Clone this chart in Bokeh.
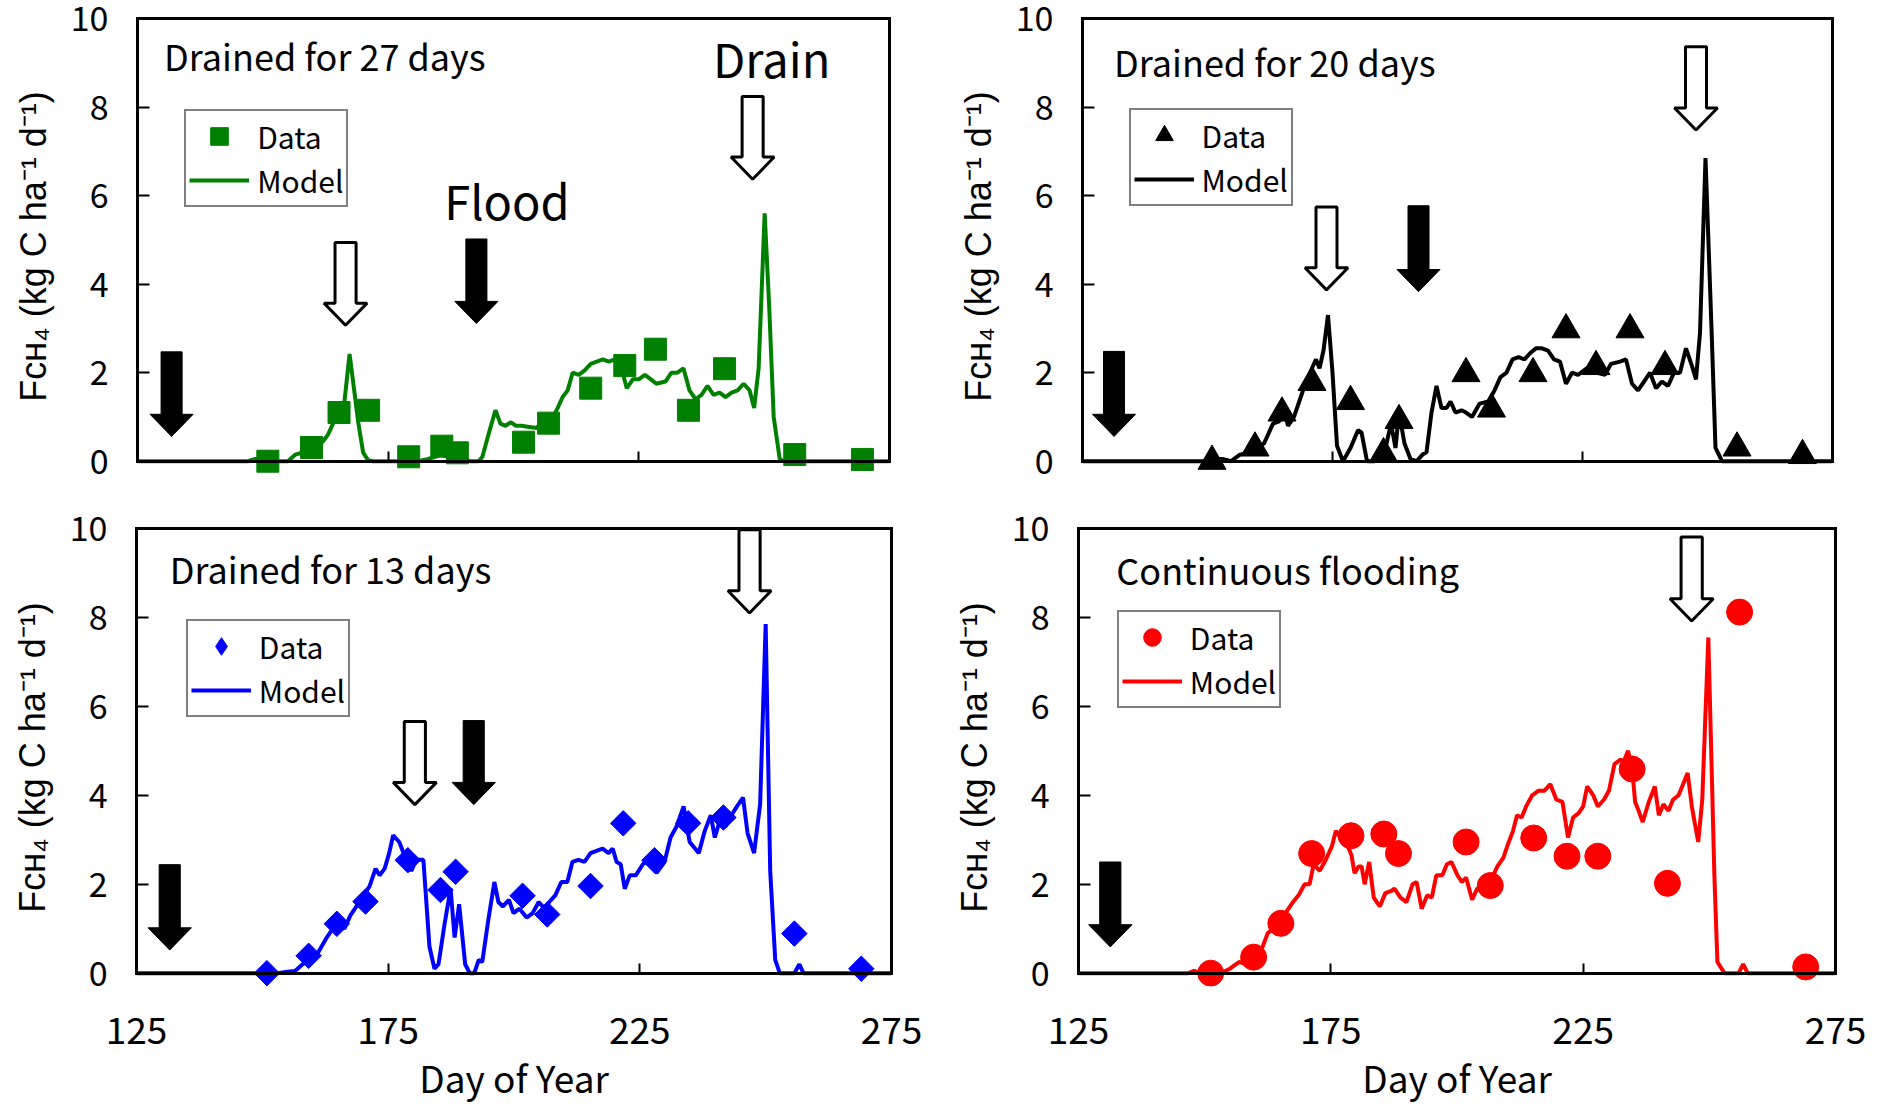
from math import pi
from bokeh.plotting import figure
from bokeh.models import Range1d, LinearAxis, FixedTicker, Label, Legend, LegendItem
from bokeh.layouts import column, row
from bokeh.embed import file_html
from bokeh.resources import INLINE

# ---------------- data ----------------
# Panel 1: Drained for 27 days (green)
d27_data_day = [151, 159.7, 165.2, 171.1, 179.1, 185.7, 188.8, 202, 207, 215.4, 222.2, 228.3, 234.9, 242.1, 256.1, 269.6]
d27_data_val = [0.0, 0.31, 1.10, 1.15, 0.10, 0.34, 0.19, 0.43, 0.86, 1.65, 2.16, 2.53, 1.15, 2.09, 0.15, 0.04]
d27_model_day = [125, 147, 148.5, 150, 155, 156.5, 158, 159.7, 161, 162, 163, 164, 165, 166, 167.3, 168, 169, 170, 171, 172,
                 181, 183, 185.7, 187, 188.5, 190, 191.4, 193, 193.8, 195, 196.4, 197.4, 198.4, 199.5, 200.5, 201.6, 202.8,
                 204.6, 205.8, 207.6, 208.8, 209.8, 210.8, 211.8, 213, 214.2, 215.4, 216.6, 217.8, 219, 220.2, 221.4, 222.6,
                 223.8, 225, 226.2, 227.4, 228.5, 230.3, 231.5, 232.7, 233.9, 235.1, 236.3, 237.5, 238.7, 239.9, 241.1,
                 242.3, 243.5, 244.7, 245.9, 247.1, 248, 248.9, 250.1, 251, 251.9, 253.1, 254, 275]
d27_model_val = [0, 0, 0.05, 0, 0, 0.15, 0.2, 0.3, 0.35, 0.45, 0.6, 0.85, 1.05, 1.05, 2.42, 1.8, 0.9, 0.2, 0.02, 0,
                 0, 0.05, 0.15, 0.1, 0.2, 0.05, 0, 0, 0.1, 0.6, 1.15, 0.85, 0.8, 0.88, 0.8, 0.8, 0.78,
                 0.75, 0.9, 0.95, 1.2, 1.45, 1.6, 2.0, 1.95, 2.05, 2.2, 2.25, 2.3, 2.25, 2.3, 2.15, 1.65,
                 1.85, 1.85, 1.95, 1.85, 1.75, 1.8, 2.0, 2.0, 2.1, 1.6, 1.4, 1.5, 1.7, 1.5, 1.55,
                 1.45, 1.55, 1.6, 1.75, 1.6, 1.2, 2.1, 5.6, 3.5, 1.0, 0.05, 0, 0]

# Panel 2: Drained for 20 days (black)
d20_data_day = [150.9, 159.5, 164.9, 170.9, 178.6, 185.2, 188.3, 201.7, 206.8, 215.1, 221.7, 227.7, 234.5, 241.5, 255.9, 269]
d20_data_val = [0.0, 0.30, 1.09, 1.78, 1.35, 0.17, 0.92, 1.98, 1.18, 1.98, 2.97, 2.14, 2.97, 2.14, 0.30, 0.13]
d20_model_day = [125, 150, 151, 153, 154.7, 156.5, 158.3, 159.5, 161.3, 163.1, 164.3, 165.5, 166.1, 167.3, 168.5, 169.7,
                 170.9, 171.7, 172.4, 173.2, 174.1, 175, 175.9, 177.1, 178.6, 180.1, 180.8, 181.9, 183.4, 185.2, 186.7,
                 187.6, 188.3, 189.4, 190.6, 191.8, 193, 193.8, 194.8, 195.8, 196.8, 197.8, 198.6, 199.6, 200.8, 201.7,
                 202.9, 204.4, 206.2, 207.4, 208.6, 209.8, 211, 212.2, 213.4, 214.6, 215.7, 216.9, 218.1, 219.3, 220.5,
                 221.7, 222.9, 224.1, 225.3, 226.5, 227.7, 229.5, 230.7, 232.5, 233.7, 234.9, 236.1, 237.3, 238.5, 239.7,
                 240.9, 242.1, 243.3, 244.5, 245.7, 246.9, 247.7, 248.5, 249.6, 250.8, 251.6, 252.9, 275]
d20_model_val = [0, 0, 0.05, 0.05, 0, 0.15, 0.2, 0.3, 0.4, 0.85, 0.9, 1.1, 0.8, 1.0, 1.4, 1.8,
                 2.1, 2.3, 2.1, 2.5, 3.3, 2.0, 0.35, 0, 0.3, 0.7, 0.65, 0, 0, 0.1, 0.85,
                 0.3, 1.1, 0.4, 0.05, 0, 0.15, 0.2, 1.1, 1.7, 1.2, 1.2, 1.35, 1.1, 1.15, 1.1,
                 1.0, 1.3, 1.35, 1.6, 1.9, 2.0, 2.3, 2.35, 2.3, 2.45, 2.55, 2.55, 2.5, 2.3, 2.25,
                 1.75, 2.0, 1.95, 2.05, 2.15, 2.0, 1.95, 2.2, 2.25, 2.3, 1.75, 1.6, 1.8, 2.0, 1.65,
                 1.8, 1.7, 2.0, 2.0, 2.55, 2.15, 1.85, 2.9, 6.85, 3.0, 0.3, 0, 0]

# Panel 3: Drained for 13 days (blue)
d13_data_day = [150.9, 159.2, 164.8, 170.5, 178.9, 185.4, 188.4, 201.7, 206.6, 215.2, 221.7, 227.9, 234.6, 241.6, 255.7, 269]
d13_data_val = [0.0, 0.39, 1.11, 1.61, 2.54, 1.87, 2.28, 1.74, 1.32, 1.96, 3.37, 2.54, 3.37, 3.50, 0.89, 0.10]
d13_model_day = [125, 153, 155, 156.5, 158, 160, 161, 162.8, 164, 165.3, 166.3, 167.5, 168.7, 170, 171.3, 172.5, 173.3,
                 174.3, 175.2, 176, 177.2, 178.4, 179.6, 180.6, 182, 183.2, 184.2, 185, 186.2, 187.4, 188.2, 189.1,
                 190.3, 191.2, 192.1, 193, 193.7, 194.9, 196.1, 196.9, 197.8, 199, 199.9, 201.1, 202.5, 203.7, 204.9,
                 206.1, 207, 208.2, 209.4, 210.6, 211.6, 212.8, 214, 215.2, 216.4, 217.6, 218.8, 219.6, 220.4, 221.2,
                 222, 223, 224.2, 225.6, 226.9, 228.3, 229.9, 231.1, 232.3, 233.7, 234.9, 236.7, 237.9, 239.1, 239.9,
                 240.8, 242, 243.2, 244.3, 245.5, 246.4, 247.7, 248.9, 250, 250.9, 251.9, 252.8, 255.7, 256.7, 257.5, 275]
d13_model_val = [0, 0, 0.03, 0.05, 0.2, 0.35, 0.45, 0.8, 1.0, 1.1, 1.0, 1.3, 1.5, 1.75, 1.95, 2.35, 2.2,
                 2.35, 2.7, 3.1, 2.95, 2.6, 2.3, 2.55, 2.55, 0.6, 0.1, 0.2, 1.1, 1.9, 0.8, 1.55,
                 0.2, 0, 0, 0.3, 0.25, 1.2, 2.05, 1.6, 1.5, 1.65, 1.35, 1.45, 1.25, 1.35, 1.6,
                 1.45, 1.6, 1.75, 2.05, 2.05, 2.5, 2.55, 2.5, 2.7, 2.75, 2.8, 2.7, 2.8, 2.5, 2.45,
                 1.9, 2.2, 2.2, 2.45, 2.55, 2.25, 2.5, 3.05, 3.3, 3.75, 2.95, 2.7, 3.2, 3.55, 3.05,
                 3.4, 3.3, 3.55, 3.75, 3.95, 3.15, 2.7, 3.8, 7.85, 2.3, 0.3, 0, 0, 0.2, 0, 0]

# Panel 4: Continuous flooding (red)
cf_data_day = [151.2, 159.7, 165.1, 171.2, 179, 185.5, 188.4, 201.8, 206.6, 215.2, 221.8, 227.9, 234.7, 241.7, 256, 269.1]
cf_data_val = [0.0, 0.36, 1.12, 2.69, 3.09, 3.13, 2.69, 2.95, 1.97, 3.04, 2.63, 2.63, 4.59, 2.02, 8.12, 0.14]
cf_model_day = [125, 146.7, 147.9, 149.5, 153.2, 155, 156.8, 158.6, 159.8, 161.5, 162.5, 163.7, 165.1, 166.3, 167.5,
                168.6, 169.8, 170.8, 171.6, 172.8, 174, 175.2, 176, 177.2, 178.4, 179.1, 179.7, 180.5, 181.1, 181.7,
                182.6, 183.5, 184.7, 185.8, 187, 187.6, 188.8, 190, 191.2, 192, 193, 194.1, 195, 195.9, 197.1, 198,
                198.9, 200.1, 201, 201.8, 203, 204, 205.4, 206.6, 208, 209.2, 210.1, 211.1, 211.9, 212.8, 213.7, 214.9,
                216.1, 217.3, 218.5, 219.7, 220.9, 222, 223, 224.1, 225, 225.8, 227, 227.9, 229.1, 230.1, 231.2, 232.4,
                233, 233.9, 234.7, 235.3, 236, 236.8, 238, 239.2, 240, 240.9, 241.9, 242.8, 243.9, 244.8, 245.7, 246.6,
                247.8, 248.6, 249.8, 251, 251.6, 253, 255.8, 256.7, 257.6, 275]
cf_model_val = [0, 0, 0.05, 0, 0, 0.1, 0.25, 0.2, 0.35, 0.6, 0.9, 1.0, 1.1, 1.4, 1.6,
                1.75, 2.0, 2.0, 2.45, 2.3, 2.55, 2.85, 3.2, 3.0, 2.85, 2.65, 2.25, 2.4, 2.4, 2.0,
                2.5, 1.7, 1.5, 1.8, 1.85, 1.9, 1.7, 1.6, 2.0, 2.05, 1.45, 1.75, 1.7, 2.2, 2.2, 2.45,
                2.5, 2.2, 2.05, 2.15, 1.65, 1.9, 1.95, 2.05, 2.4, 2.6, 2.9, 3.2, 3.55, 3.5, 3.75, 4.0,
                4.1, 4.1, 4.25, 3.9, 3.85, 3.05, 3.5, 3.6, 3.75, 4.2, 4.0, 3.75, 3.9, 4.1, 4.7, 4.8,
                4.75, 5.0, 4.6, 3.85, 3.65, 3.4, 3.85, 4.2, 3.55, 3.8, 3.65, 3.9, 4.0, 4.25, 4.5, 3.7,
                2.95, 3.9, 7.55, 2.2, 0.25, 0, 0, 0.2, 0, 0]

# flood (filled) and drain (hollow) arrows: day, top value, tip value
d27_flood = {"day": [131.8, 192.6], "top": [2.47, 5.02], "tip": [0.56, 3.11]}
d27_drain = {"day": [166.5, 247.7], "top": [4.94, 8.24], "tip": [3.07, 6.37]}
d20_flood = {"day": [131.3, 192.2], "top": [2.48, 5.77], "tip": [0.56, 3.83]}
d20_drain = {"day": [173.8, 247.7], "top": [5.74, 9.36], "tip": [3.87, 7.48]}
d13_flood = {"day": [131.6, 192.0], "top": [2.44, 5.68], "tip": [0.52, 3.79]}
d13_drain = {"day": [180.3, 246.8], "top": [5.66, 9.97], "tip": [3.79, 8.10]}
cf_flood = {"day": [131.3], "top": [2.50], "tip": [0.59]}
cf_drain = {"day": [246.5], "top": [9.81], "tip": [7.92]}

titles = ["Drained for 27 days", "Drained for 20 days", "Drained for 13 days", "Continuous flooding"]
x_ticks = [125, 175, 225, 275]
y_ticks = [0, 2, 4, 6, 8, 10]
y_label = "F\u1d04\u029c\u2084 (kg C ha\u207b\u00b9 d\u207b\u00b9)"
x_label = "Day of Year"

FONT = "Noto Sans CJK JP"
LFONT = "Liberation Sans"
YMIN = -0.3


def arrow_shapes(arr, sw=2.1, hw=4.3, hh=0.5):
    xs, ys = [], []
    for d, t, b in zip(arr["day"], arr["top"], arr["tip"]):
        hb = b + hh
        xs.append([d - sw, d + sw, d + sw, d + hw, d, d - hw, d - sw])
        ys.append([t, t, hb, hb, b, hb, hb])
    return xs, ys


def panel(cfg):
    W, H = cfg["size"]
    L, R, T, B = cfg["borders"]
    p = figure(width=W, height=H, x_range=Range1d(125, 275), y_range=Range1d(YMIN, 10),
               output_backend="svg", toolbar_location=None,
               min_border_left=L, min_border_right=R, min_border_top=T, min_border_bottom=B)
    p.xgrid.visible = False
    p.ygrid.visible = False
    p.outline_line_color = None
    p.background_fill_color = "white"
    p.border_fill_color = "white"

    # x axis line + inward ticks at y = 0 (labels come from a second axis)
    xa = p.xaxis[0]
    xa.fixed_location = 0
    xa.ticker = FixedTicker(ticks=x_ticks)
    xa.major_tick_in = 10
    xa.major_tick_out = 0
    xa.major_tick_line_width = 2
    xa.minor_tick_line_color = None
    xa.axis_line_width = 3
    xa.major_label_overrides = {t: "" for t in x_ticks}
    xa.major_label_text_color = None
    xa.major_label_text_font_size = "11px"
    xa.major_label_standoff = 0

    if cfg["bottom"]:
        xb = LinearAxis(ticker=FixedTicker(ticks=x_ticks), axis_line_color=None,
                        major_tick_line_color=None, minor_tick_line_color=None,
                        major_label_text_font=FONT, major_label_text_font_size="37px",
                        major_label_text_color="black", major_label_standoff=cfg["xstand"],
                        axis_label=x_label, axis_label_text_font=FONT,
                        axis_label_text_font_size="37px", axis_label_text_font_style="normal",
                        axis_label_text_color="black", axis_label_standoff=cfg["xlstand"])
        p.add_layout(xb, "below")

    ya = p.yaxis[0]
    ya.bounds = (0, 10)
    ya.ticker = FixedTicker(ticks=y_ticks)
    ya.major_tick_in = 12
    ya.major_tick_out = 0
    ya.major_tick_line_width = 2
    ya.minor_tick_line_color = None
    ya.axis_line_width = 3
    ya.axis_line_cap = "square"
    ya.major_label_text_font = FONT
    ya.major_label_text_font_size = "34px"
    ya.major_label_text_color = "black"
    ya.major_label_standoff = 29
    ya.axis_label = y_label
    ya.axis_label_text_font = LFONT
    ya.axis_label_text_font_size = "36px"
    ya.axis_label_text_font_style = "normal"
    ya.axis_label_text_color = "black"
    ya.axis_label_standoff = 14

    for side in ("above", "right"):
        ax = LinearAxis(ticker=FixedTicker(ticks=[]), major_tick_line_color=None,
                        minor_tick_line_color=None, major_label_text_font_size="11px",
                        major_label_standoff=0, axis_line_width=3, axis_line_cap="square")
        if side == "right":
            ax.bounds = (0, 10)
        p.add_layout(ax, side)

    # arrows
    fx, fy = arrow_shapes(cfg["flood"])
    p.patches(fx, fy, fill_color="black", line_color="black", line_width=1)
    dx, dy = arrow_shapes(cfg["drain"])
    p.patches(dx, dy, fill_color="white", line_color="black", line_width=3)

    ln = p.line(cfg["mday"], cfg["mval"], line_color=cfg["color"], line_width=4)
    sc = p.scatter(cfg["dday"], cfg["dval"], marker=cfg["marker"], size=cfg["msize"],
                   angle=cfg.get("mangle", 0.0),
                   fill_color=cfg["color"], line_color=cfg["color"])
    leg_sc = sc
    if cfg.get("legend_marker"):
        # legend-only glyph (a NaN point, never drawn) so the legend shows a diamond
        leg_sc = p.scatter(x=[float("nan")], y=[float("nan")], marker=cfg["legend_marker"],
                           size=cfg["msize"], fill_color=cfg["color"], line_color=cfg["color"])

    # legend
    pad, gh, sp = 3, 44, 0
    leg_h = 2 * pad + 2 * gh + sp
    fw = W - L - R
    fh = H - T - B
    lx = (cfg["leg"][0] - 125) * fw / 150.0
    ly = (cfg["leg"][1] - YMIN) * fh / (10 - YMIN) - leg_h
    legend = Legend(items=[LegendItem(label="Data", renderers=[leg_sc]),
                           LegendItem(label="Model", renderers=[ln])],
                    location=(lx, ly), padding=pad, spacing=sp, glyph_height=gh, label_height=gh,
                    glyph_width=60, label_standoff=8, margin=0,
                    label_text_font=FONT, label_text_font_size="30px", label_text_color="black",
                    border_line_color="black", border_line_width=2,
                    background_fill_color="white", background_fill_alpha=1.0)
    p.add_layout(legend)

    # title text
    p.add_layout(Label(x=cfg["title_pos"][0], y=cfg["title_pos"][1], text=cfg["title"],
                       text_font=FONT, text_font_size="36px", text_color="black",
                       text_align="left", text_baseline="middle"))

    for txt, (tx, ty) in cfg.get("extra", []):
        p.add_layout(Label(x=tx, y=ty, text=txt, text_font=FONT, text_font_size="47px",
                           text_color="black", text_align="center", text_baseline="middle"))
    return p


cfgs = [
    dict(size=(940, 500), borders=(137, 51, 18, 26), bottom=False, color="#008000", marker="square", msize=22,
         dday=d27_data_day, dval=d27_data_val, mday=d27_model_day, mval=d27_model_val,
         flood=d27_flood, drain=d27_drain, leg=(134.4, 7.85), title=titles[0], title_pos=(130.3, 9.17),
         extra=[("Drain", (251.5, 9.12)), ("Flood", (198.7, 5.92))]),
    dict(size=(939, 500), borders=(142, 47, 18, 26), bottom=False, color="black", marker="triangle", msize=28,
         dday=d20_data_day, dval=d20_data_val, mday=d20_model_day, mval=d20_model_val,
         flood=d20_flood, drain=d20_drain, leg=(134.3, 7.88), title=titles[1], title_pos=(131.3, 9.05)),
    dict(size=(940, 609), borders=(136, 49, 28, 122), bottom=True, color="#0000FF", marker="square", msize=18,
         mangle=pi / 4, legend_marker="diamond", xstand=24, xlstand=3,
         dday=d13_data_day, dval=d13_data_val, mday=d13_model_day, mval=d13_model_val,
         flood=d13_flood, drain=d13_drain, leg=(134.9, 7.85), title=titles[2], title_pos=(131.6, 9.12)),
    dict(size=(939, 609), borders=(138, 44, 26, 123), bottom=True, color="#FF0000", marker="circle", msize=26,
         xstand=24, xlstand=3,
         dday=cf_data_day, dval=cf_data_val, mday=cf_model_day, mval=cf_model_val,
         flood=cf_flood, drain=cf_drain, leg=(132.7, 8.02), title=titles[3], title_pos=(132.5, 9.09)),
]

figs = [panel(c) for c in cfgs]
layout = column(row(figs[0], figs[1]), row(figs[2], figs[3]))

with open("out.html", "w") as f:
    f.write(file_html(layout, INLINE))
